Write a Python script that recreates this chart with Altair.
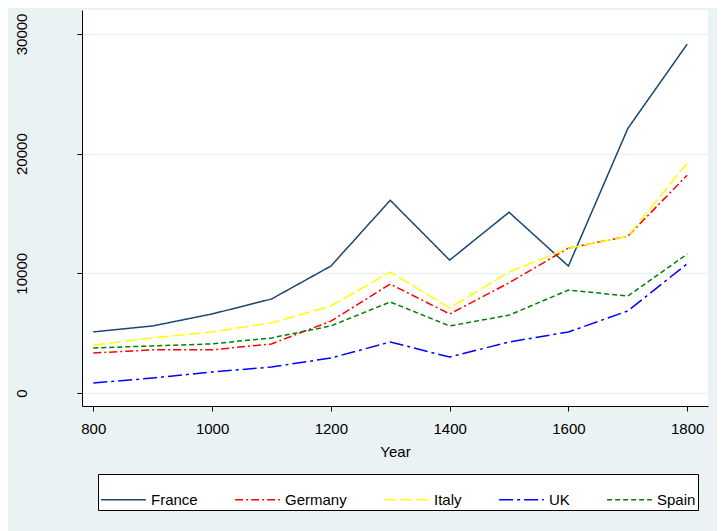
import pandas as pd
import altair as alt

years = [800, 900, 1000, 1100, 1200, 1300, 1400, 1500, 1600, 1700, 1800]
france = [5100, 5600, 6600, 7850, 10600, 16100, 11100, 15100, 10600, 22100, 29150]
germany = [3340, 3600, 3600, 4100, 6000, 9100, 6600, 9200, 12100, 13100, 18200]
italy = [4000, 4600, 5100, 5850, 7270, 10100, 7100, 10100, 12100, 13100, 19200]
uk = [835, 1250, 1750, 2170, 2920, 4260, 3000, 4260, 5100, 6850, 10800]
spain = [3760, 3930, 4100, 4600, 5600, 7600, 5600, 6500, 8600, 8100, 11600]

countries = ["France", "Germany", "Italy", "UK", "Spain"]
colors = ["#1a476f", "#ff0000", "#ffff00", "#0000ff", "#008000"]
dashes = [[1, 0], [8, 3, 2, 3], [12, 4], [14, 4, 3, 4], [5, 3]]

rows = []
for name, vals in zip(countries, [france, germany, italy, uk, spain]):
    for yr, v in zip(years, vals):
        rows.append({"Year": yr, "value": v, "country": name})
data = pd.DataFrame(rows)

chart = alt.Chart(data).mark_line(strokeWidth=1.5).encode(
    x=alt.X("Year:Q", title="Year",
            scale=alt.Scale(domain=[781, 1835], nice=False, zero=False),
            axis=alt.Axis(values=[800, 1000, 1200, 1400, 1600, 1800], grid=False, format="d",
                          labelFontSize=15, titleFontSize=15, titleFontWeight="normal",
                          domainColor="black", tickColor="black", labelColor="black",
                          titleColor="black", labelPadding=10, titlePadding=8)),
    y=alt.Y("value:Q", title=None,
            scale=alt.Scale(domain=[-1090, 32000], nice=False),
            axis=alt.Axis(values=[0, 10000, 20000, 30000], labelAngle=270, format="d",
                          labelFontSize=15, labelColor="black", labelBaseline="middle",
                          labelAlign="center", labelPadding=56,
                          gridColor="#eaf2f3", gridWidth=1.5,
                          domainColor="black", tickColor="black")),
    color=alt.Color("country:N", sort=countries,
                    scale=alt.Scale(domain=countries, range=colors),
                    legend=alt.Legend(title=None, orient="none", legendX=16, legendY=464,
                                      direction="horizontal", columns=5,
                                      symbolType="stroke", symbolSize=2000,
                                      symbolStrokeWidth=1.5, labelFontSize=15,
                                      labelColor="black", columnPadding=34,
                                      fillColor="white", strokeColor="black",
                                      padding=2, labelLimit=200)),
    strokeDash=alt.StrokeDash("country:N", sort=countries,
                              scale=alt.Scale(domain=countries, range=dashes),
                              legend=None),
).properties(
    width=626, height=396,
    autosize=alt.AutoSizeParams(type="none"),
    padding={"left": 74, "top": 2, "right": 9, "bottom": 125},
    background="#eaf2f3",
).configure(font="Liberation Sans").configure_view(fill="white", stroke=None)

chart.save("out.html", embed_options={"renderer": "svg", "actions": False})
